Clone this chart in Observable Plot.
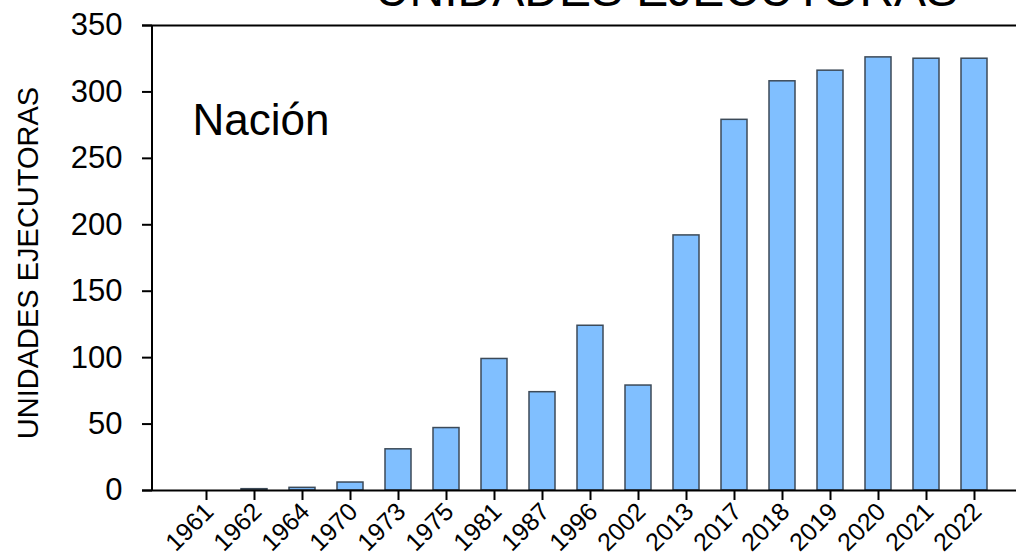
<!DOCTYPE html>
<html>
<head>
<meta charset="utf-8">
<script src="https://cdn.jsdelivr.net/npm/d3@7"></script>
<script src="https://cdn.jsdelivr.net/npm/@observablehq/plot@0.6"></script>
<style>
  html, body { margin: 0; padding: 0; background: #fff; }
  #chart { width: 1016px; height: 560px; overflow: hidden; }
  svg { font-family: "Liberation Sans", Arial, sans-serif; }
</style>
</head>
<body>
<div id="chart"></div>
<script>
const years = ["1961","1962","1964","1970","1973","1975","1981","1987","1996","2002","2013","2017","2018","2019","2020","2021","2022"];
const units = [0, 1, 2, 6, 31, 47, 99, 74, 124, 79, 192, 279, 308, 316, 326, 325, 325];
const yTicks = [0, 50, 100, 150, 200, 250, 300, 350];
const title = "UNIDADES EJECUTORAS";
const yLabel = "UNIDADES EJECUTORAS";
const panelLabel = "Nación";

const data = years.map((y, i) => ({year: y, value: units[i]}));

const chart = Plot.plot({
  width: 1016,
  height: 560,
  marginTop: 25,
  marginBottom: 70,
  marginLeft: 152,
  marginRight: 0,
  style: {fontFamily: "'Liberation Sans', Arial, sans-serif", background: "#fff", color: "#000", overflow: "visible"},
  x: {domain: years, padding: 0.45, insetLeft: 13, insetRight: 1},
  y: {domain: [0, 350]},
  marks: [
    Plot.barY(data, {x: "year", y: "value", fill: "#80bfff", stroke: "#3c4a58", strokeWidth: 1.5}),
    Plot.ruleY([0, 350], {stroke: "#000", strokeWidth: 2, insetLeft: -10}),
    Plot.axisY({ticks: yTicks, tickSize: 10, tickPadding: 20, fontSize: 31, label: null, strokeWidth: 2, tickFormat: d => String(d)}),
    Plot.axisX({tickSize: 10, tickFormat: () => null, label: null, strokeWidth: 2}),
    Plot.axisX({tickSize: 0, tickPadding: 17, tickRotate: -45, fontSize: 25, dx: 3, label: null}),
    Plot.text([yLabel], {frameAnchor: "left", rotate: -90, textAnchor: "middle", dx: -124, dy: 5, fontSize: 29, text: d => d}),
    Plot.text([panelLabel], {frameAnchor: "top-left", dx: 40, dy: 78, fontSize: 44, textAnchor: "start", text: d => d}),
    Plot.text([title], {frameAnchor: "top", dx: 82, dy: -54, fontSize: 48, text: d => d})
  ]
});

// vertical y-axis line along the left edge of the frame
d3.select(chart).append("line")
  .attr("x1", 152).attr("x2", 152)
  .attr("y1", 25).attr("y2", 490)
  .attr("stroke", "#000").attr("stroke-width", 2);

document.getElementById("chart").appendChild(chart);
</script>
</body>
</html>
